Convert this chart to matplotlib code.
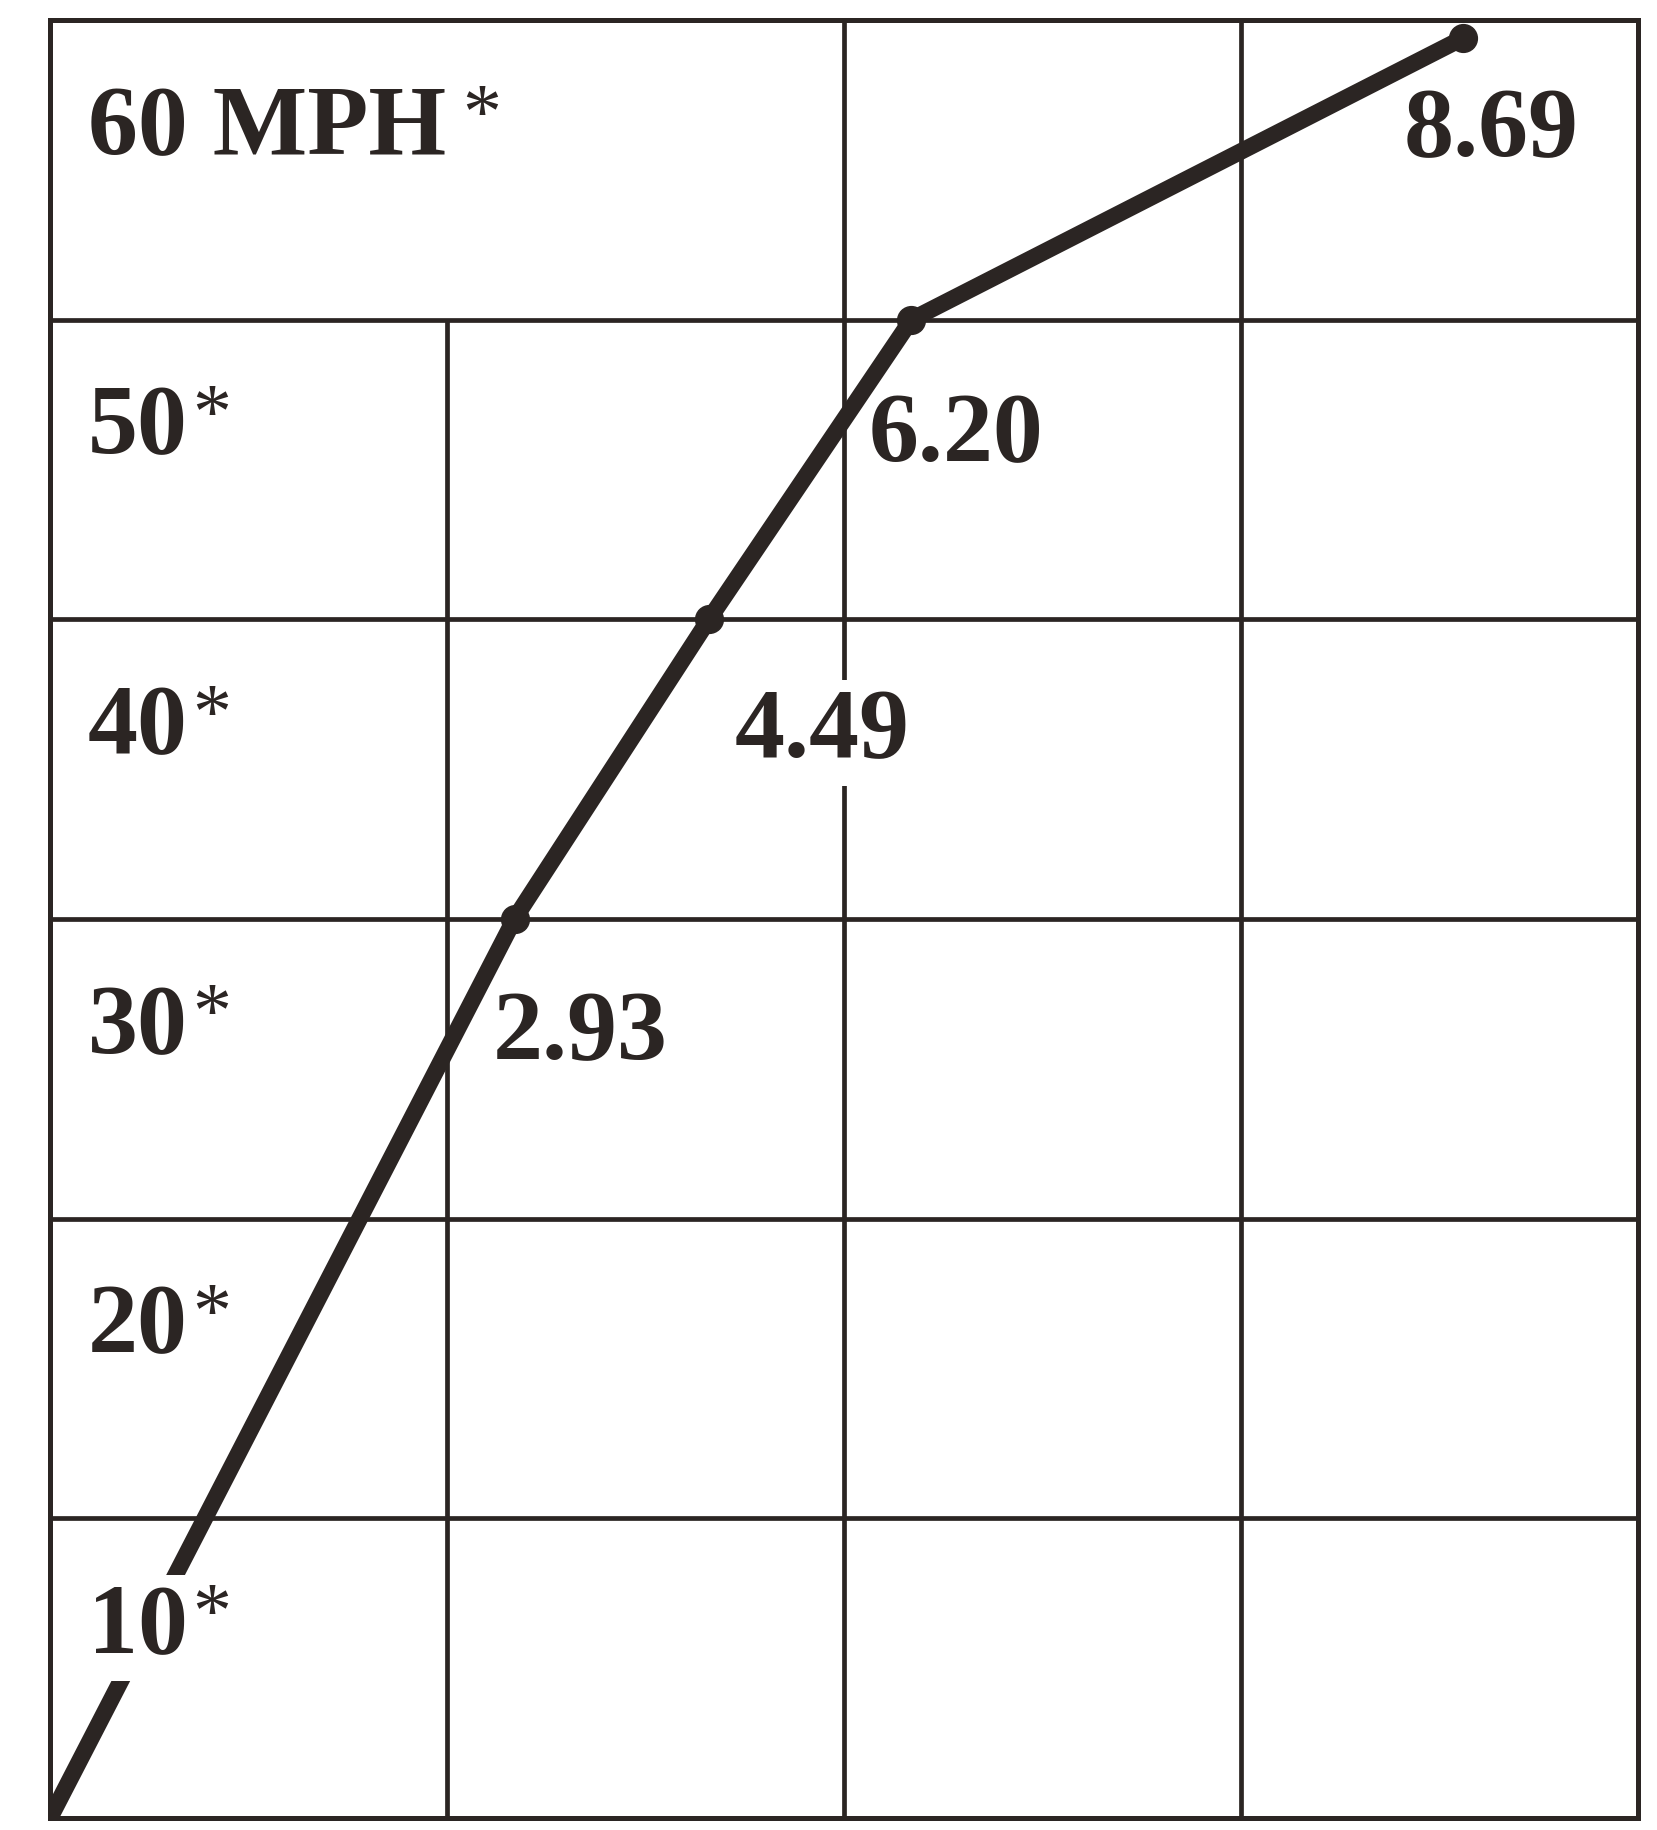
import matplotlib
matplotlib.use("Agg")
import matplotlib.pyplot as plt

# Datos
speed_mph = [0, 30, 40, 50, 59.4]          # velocidad en cada punto
grid_pos = [0, 1.17, 1.66, 2.17, 3.56]     # posición horizontal en columnas de la cuadrícula
time_labels = ["2.93", "4.49", "6.20", "8.69"]
row_tops = [10, 20, 30, 40, 50, 60]
row_labels = ["10", "20", "30", "40", "50", "60 MPH"]

ink = "#2b2523"
plt.rcParams['font.family'] = ['Liberation Serif', 'DejaVu Serif']

fig = plt.figure(figsize=(16.57, 18.30), dpi=100)
ax = fig.add_axes([0.0302, 0.0066, 0.9583, 0.9825])
ax.set_xlim(0, 4)
ax.set_ylim(0, 60)
ax.set_xticks([])
ax.set_yticks([])
for sp in ax.spines.values():
    sp.set_linewidth(3.6)
    sp.set_color(ink)

# Cuadrícula
ax.hlines(row_tops[:-1], 0, 4, color=ink, lw=3.4, zorder=1)
ax.vlines([2, 3], 0, 60, color=ink, lw=3.4, zorder=1)
ax.vlines(1, 0, 50, color=ink, lw=3.4, zorder=1)

# Curva
ax.plot(grid_pos, speed_mph, color=ink, lw=12, solid_joinstyle='round',
        solid_capstyle='butt', zorder=3)
ax.plot(grid_pos[1:], speed_mph[1:], 'o', color=ink, ms=20, zorder=4, clip_on=False)

# Etiquetas de filas
white = dict(facecolor='white', edgecolor='none', boxstyle='square,pad=0.08')
for top, lab in zip(row_tops, row_labels):
    t = ax.text(0.095, top - 4.47, lab, fontsize=72, fontweight='bold', color=ink,
                ha='left', va='baseline', zorder=5, bbox=white)
    gap = 16 if ' ' in lab else 5
    ax.annotate('*', xy=(1, 1), xycoords=t, xytext=(gap, 2),
                textcoords='offset pixels', ha='left', va='top',
                fontsize=56, color=ink, zorder=6)

# Etiquetas de tiempos
offsets = [(-22, -140), (26, -138), (-43, -142), (-60, -118)]
for i, lab in enumerate(time_labels):
    bb = white if lab == "4.49" else None
    ax.annotate(lab, xy=(grid_pos[i + 1], speed_mph[i + 1]), xytext=offsets[i],
                textcoords='offset pixels', fontsize=72, fontweight='bold',
                color=ink, ha='left', va='baseline', zorder=5, bbox=bb)

fig.savefig("out.png", dpi=100, facecolor='white')
